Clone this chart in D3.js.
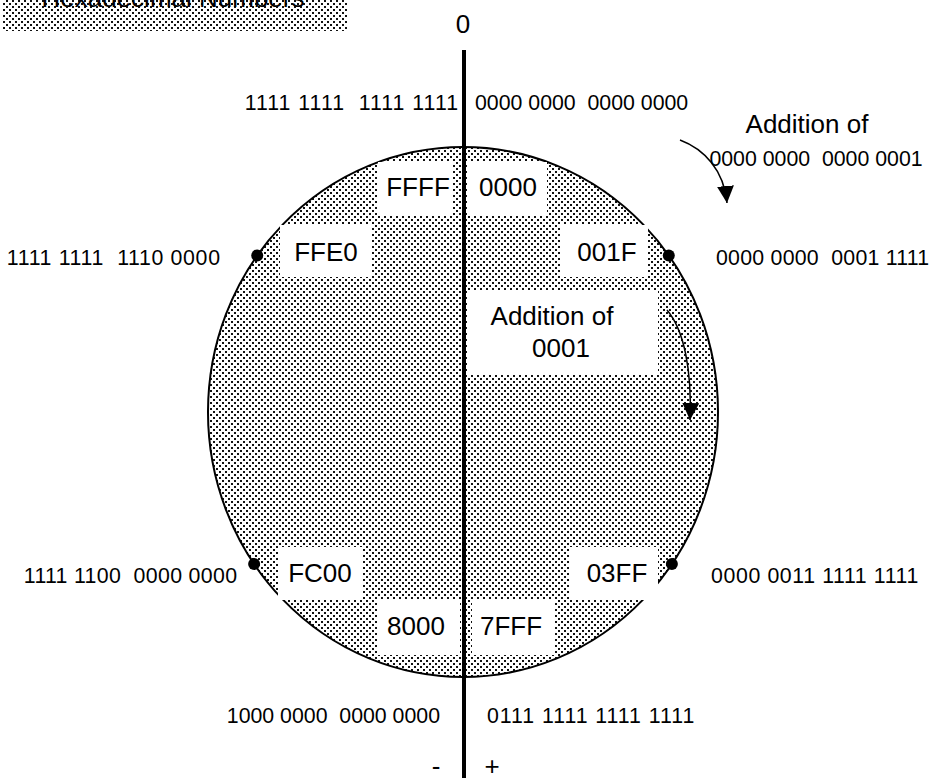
<!DOCTYPE html>
<html>
<head>
<meta charset="utf-8">
<script src="https://cdn.jsdelivr.net/npm/d3@7"></script>
<style>
  html, body { margin: 0; padding: 0; background: #fff; }
  svg { display: block; }
  text { font-family: "Liberation Sans", Arial, Helvetica, sans-serif; fill: #000; white-space: pre; font-variant-numeric: tabular-nums; }
</style>
</head>
<body>
<svg id="chart" width="933" height="778"></svg>
<script>
// ---- data ----
const title = "Hexadecimal Numbers";
const axisLabels = ["0", "-", "+"];
const hexLabels = ["FFFF", "0000", "FFE0", "001F", "FC00", "03FF", "8000", "7FFF"];
const binaryLabels = [
  "1111 1111  1111 1111", "0000 0000  0000 0000",
  "1111 1111  1110 0000", "0000 0000  0001 1111",
  "1111 1100  0000 0000", "0000 0011 1111 1111",
  "1000 0000  0000 0000", "0111 1111 1111 1111"
];
const additionOuter = ["Addition of", "0000 0000  0000 0001"];
const additionInner = ["Addition of", "0001"];
// angles (degrees clockwise from top) of the marked points on the number circle
const dotAngles = [-53.8, 53.8, -125, 125];

// ---- layout ----
const svg = d3.select("#chart");
const cx = 463, cy = 412, rx = 255, ry = 265;
const big = 26, small = 21.3;

const defs = svg.append("defs");
const pat = defs.append("pattern").attr("id", "dots")
  .attr("patternUnits", "userSpaceOnUse").attr("width", 6).attr("height", 6);
pat.append("rect").attr("width", 6).attr("height", 6).attr("fill", "#fff");
pat.append("rect").attr("x", 0).attr("y", 0).attr("width", 2).attr("height", 2).attr("fill", "#111");
pat.append("rect").attr("x", 3).attr("y", 3).attr("width", 2).attr("height", 2).attr("fill", "#111");

defs.append("marker").attr("id", "arrow")
  .attr("viewBox", "0 0 10 10").attr("refX", 10).attr("refY", 5)
  .attr("markerWidth", 17).attr("markerHeight", 17).attr("markerUnits", "userSpaceOnUse")
  .attr("orient", "auto")
  .append("path").attr("d", "M0,0 L10,5 L0,10 Z").attr("fill", "#000");

// title band
svg.append("rect").attr("x", 3).attr("y", 0).attr("width", 345).attr("height", 31).attr("fill", "url(#dots)");
svg.append("text").attr("x", 173).attr("y", 7).attr("text-anchor", "middle")
  .attr("font-size", big).text(title);

// number circle
svg.append("ellipse").attr("cx", cx).attr("cy", cy).attr("rx", rx).attr("ry", ry)
  .attr("fill", "url(#dots)").attr("stroke", "#000").attr("stroke-width", 2);

// white label boxes with hex values
const boxes = [
  {x: 378, y: 162, w: 74, h: 53, tx: 418, ty: 196},
  {x: 468, y: 162, w: 79, h: 53, tx: 508, ty: 196},
  {x: 280, y: 225, w: 92, h: 52, tx: 326, ty: 261},
  {x: 560, y: 225, w: 88, h: 52, tx: 607, ty: 261},
  {x: 278, y: 547, w: 84, h: 53, tx: 320, ty: 582},
  {x: 570, y: 547, w: 88, h: 53, tx: 617, ty: 582},
  {x: 377, y: 600, w: 83, h: 55, tx: 416, ty: 635},
  {x: 472, y: 600, w: 83, h: 55, tx: 511, ty: 635}
];
svg.append("g").selectAll("rect").data(boxes).join("rect")
  .attr("x", d => d.x).attr("y", d => d.y).attr("width", d => d.w).attr("height", d => d.h)
  .attr("fill", "#fff");
svg.append("rect").attr("x", 468).attr("y", 290).attr("width", 190).attr("height", 85).attr("fill", "#fff");

svg.append("g").selectAll("text").data(hexLabels).join("text")
  .attr("x", (d, i) => boxes[i].tx).attr("y", (d, i) => boxes[i].ty)
  .attr("text-anchor", "middle").attr("font-size", big).text(d => d);

// inner addition text
svg.append("text").attr("x", 552).attr("y", 325).attr("text-anchor", "middle").attr("font-size", big).text(additionInner[0]);
svg.append("text").attr("x", 561).attr("y", 357).attr("text-anchor", "middle").attr("font-size", big).text(additionInner[1]);

// vertical axis
svg.append("line").attr("x1", 464).attr("x2", 464).attr("y1", 50).attr("y2", 778)
  .attr("stroke", "#000").attr("stroke-width", 4);

// dots on circle
const ang = d3.scaleLinear().domain([0, 360]).range([0, 2 * Math.PI]);
svg.append("g").selectAll("circle").data(dotAngles).join("circle")
  .attr("cx", d => cx + rx * Math.sin(ang(d)))
  .attr("cy", d => cy - ry * Math.cos(ang(d)))
  .attr("r", 6).attr("fill", "#000");

// helper: give binary strings tabular digit widths (all digits as wide as "0")
const measure = svg.append("text").attr("font-size", small).attr("xml:space", "preserve")
  .attr("x", -1000).attr("y", -1000);
function tabWidth(s) {
  measure.text(s.replace(/[0-9]/g, "0"));
  return measure.node().getComputedTextLength();
}

// binary labels
const binPos = [
  {x: 458, y: 110, a: "end"}, {x: 475, y: 110, a: "start"},
  {x: 220, y: 265, a: "end"}, {x: 716, y: 265, a: "start"},
  {x: 237, y: 583, a: "end"}, {x: 711, y: 583, a: "start"},
  {x: 440, y: 723, a: "end"}, {x: 487, y: 723, a: "start"}
];
svg.append("g").selectAll("text").data(binaryLabels).join("text")
  .attr("x", (d, i) => binPos[i].x).attr("y", (d, i) => binPos[i].y)
  .attr("xml:space", "preserve")
  .attr("text-anchor", (d, i) => binPos[i].a).attr("font-size", small)
  .attr("textLength", d => tabWidth(d)).attr("lengthAdjust", "spacing")
  .text(d => d);

// outer addition text
svg.append("text").attr("x", 807).attr("y", 133).attr("text-anchor", "middle").attr("font-size", big).text(additionOuter[0]);
svg.append("text").attr("x", 816).attr("y", 166).attr("xml:space", "preserve")
  .attr("text-anchor", "middle").attr("font-size", small)
  .attr("textLength", tabWidth(additionOuter[1])).attr("lengthAdjust", "spacing")
  .text(additionOuter[1]);
measure.remove();

// axis labels
svg.append("text").attr("x", 463).attr("y", 33).attr("text-anchor", "middle").attr("font-size", big).text(axisLabels[0]);
svg.append("text").attr("x", 436).attr("y", 775).attr("text-anchor", "middle").attr("font-size", big).text(axisLabels[1]);
svg.append("text").attr("x", 492).attr("y", 775).attr("text-anchor", "middle").attr("font-size", big).text(axisLabels[2]);

// arrows
svg.append("path").attr("d", "M680,140 C704,149 724,170 727,203")
  .attr("fill", "none").attr("stroke", "#000").attr("stroke-width", 1.5).attr("marker-end", "url(#arrow)");
svg.append("path").attr("d", "M667,310 C684,330 692,370 690,420")
  .attr("fill", "none").attr("stroke", "#000").attr("stroke-width", 1.5).attr("marker-end", "url(#arrow)");
</script>
</body>
</html>
